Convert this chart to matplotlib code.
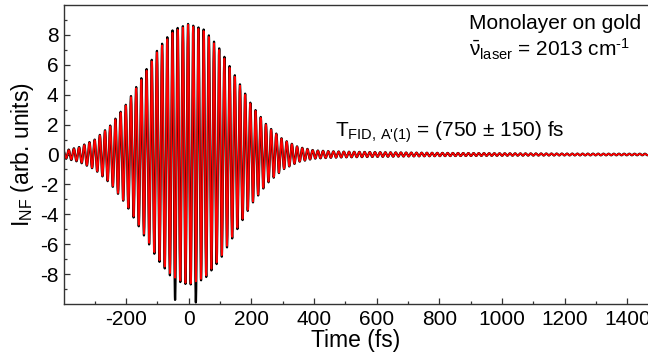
import numpy as np
import matplotlib
matplotlib.use('Agg')
from matplotlib import pyplot as plt
from matplotlib.ticker import MultipleLocator, FixedLocator

plt.rcParams['font.family'] = ['Liberation Sans', 'DejaVu Sans']
plt.rcParams['mathtext.fontset'] = 'custom'
plt.rcParams['mathtext.rm'] = 'Liberation Sans'
plt.rcParams['mathtext.it'] = 'Liberation Sans:italic'
plt.rcParams['mathtext.bf'] = 'Liberation Sans:bold'
plt.rcParams['axes.unicode_minus'] = False

# envelope of the fringes (time in fs, amplitude in arb. units)
env_t = [-400, -350, -300, -250, -200, -150, -100, -50, 0, 50, 100, 150, 200,
         250, 300, 350, 400, 450, 500, 600, 700, 800, 1000, 1200, 1470]
env_fit = [0.20, 0.46, 0.97, 1.90, 3.30, 5.05, 6.90, 8.20, 8.70, 8.25, 6.95, 5.10, 3.30,
           1.90, 1.00, 0.48, 0.26, 0.21, 0.18, 0.15, 0.13, 0.11, 0.08, 0.06, 0.04]
env_data = [0.24, 0.50, 1.00, 1.95, 3.35, 5.15, 7.00, 8.35, 8.75, 8.35, 7.05, 5.20, 3.35,
            1.95, 1.02, 0.50, 0.28, 0.22, 0.19, 0.16, 0.13, 0.11, 0.08, 0.06, 0.05]
# two deep troughs of the measured trace
spike_t = [-43.4, 22.8]
spike_val = [-9.75, -9.9]

nu_laser = 2013.0       # cm^-1
c_cm_fs = 2.998e-5      # speed of light, cm/fs
t_peak = -2.0           # time of the central fringe maximum

t = np.arange(-400, 1470, 0.4)
carrier = np.cos(2 * np.pi * nu_laser * c_cm_fs * (t - t_peak))
fit = np.interp(t, env_t, env_fit) * carrier
data = np.interp(t, env_t, env_data) * carrier
period = 1.0 / (nu_laser * c_cm_fs)
for ts, val in zip(spike_t, spike_val):
    m = np.abs(t - ts) < period / 4
    data[m] *= abs(val) / np.interp(ts, env_t, env_data)

fig = plt.figure(figsize=(6.48, 3.58), dpi=100)
ax = fig.add_axes([64 / 648, 1 - 304 / 358, 1 - 64 / 648, 299 / 358])
ax.plot(t, data, color='black', lw=1.6)
ax.plot(t, fit, color='red', lw=1.2)

ax.set_xlim(-398, 1466)
ax.set_ylim(-10, 10)
ax.xaxis.set_major_locator(MultipleLocator(200))
ax.xaxis.set_minor_locator(MultipleLocator(100))
ax.yaxis.set_major_locator(FixedLocator([-8, -6, -4, -2, 0, 2, 4, 6, 8]))
ax.yaxis.set_minor_locator(FixedLocator(range(-9, 10, 2)))
ax.tick_params(which='both', direction='in', labelsize=15, color='#333333')
ax.tick_params(which='major', length=4.5, width=0.9, pad=4)
ax.tick_params(which='minor', length=2.5, width=0.9)
ax.spines['right'].set_visible(False)
for s in ['left', 'bottom', 'top']:
    ax.spines[s].set_color('#333333')
    ax.spines[s].set_linewidth(1.0)

ax.set_xlabel('Time (fs)', fontsize=16.5, labelpad=0)
ax.set_ylabel(r'$\mathrm{I}_{\mathrm{NF}}$ (arb. units)', fontsize=16.5, labelpad=3)

ax.text(469 / 648, 1 - 29 / 358, 'Monolayer on gold', transform=fig.transFigure,
        fontsize=15, ha='left', va='baseline')
ax.text(469 / 648, 1 - 57 / 358, r'$\bar{\mathrm{\nu}}_{\mathrm{laser}}$ = 2013 cm$^{\text{-1}}$',
        transform=fig.transFigure, fontsize=15, ha='left', va='baseline')
ax.text(335 / 648, 1 - 137 / 358,
        r"$\mathrm{T}_{\mathrm{FID,}\,\mathrm{A\text{'}(1)}}$ = (750 ± 150) fs",
        transform=fig.transFigure, fontsize=15, ha='left', va='baseline')

fig.savefig('out.png', dpi=100)
